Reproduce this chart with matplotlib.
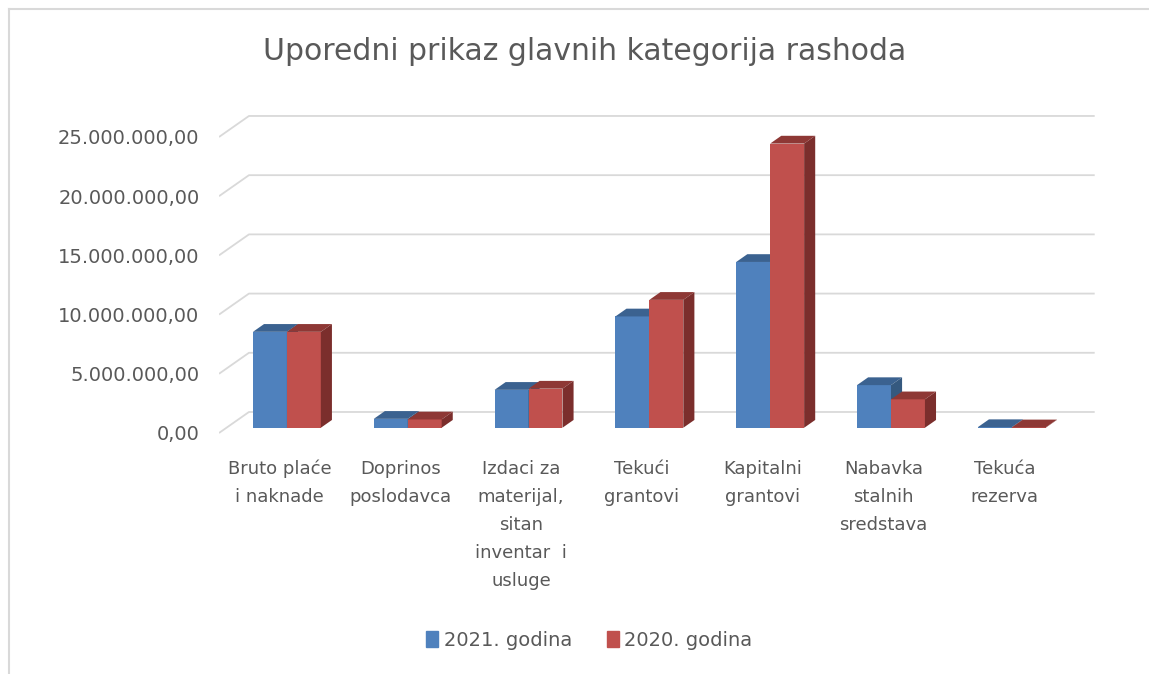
import matplotlib.pyplot as plt
from matplotlib.patches import Polygon, Patch
from matplotlib.lines import Line2D

categories = ["Bruto plaće\ni naknade", "Doprinos\nposlodavca",
              "Izdaci za\nmaterijal,\nsitan\ninventar  i\nusluge",
              "Tekući\ngrantovi", "Kapitalni\ngrantovi",
              "Nabavka\nstalnih\nsredstava", "Tekuća\nrezerva"]
god_2021 = [8.1e6, 0.75e6, 3.2e6, 9.4e6, 14.0e6, 3.6e6, 0.05e6]
god_2020 = [8.1e6, 0.7e6, 3.3e6, 10.8e6, 24.0e6, 2.4e6, 0.03e6]
series_names = ["2021. godina", "2020. godina"]
yticks = [0, 5e6, 10e6, 15e6, 20e6, 25e6]

plt.rcParams['font.family'] = ['DejaVu Sans']
txt_col = '#595959'
grid_col = '#d9d9d9'
front = ['#4f81bd', '#c0504d']
top = ['#3b6290', '#8e3835']
side = ['#35597f', '#7b2e2c']

fig = plt.figure(figsize=(11.49, 6.74), dpi=100)
ax = fig.add_axes([0.1906, 0.3488, 0.7676, 0.4831])
n = len(categories)
ax.set_xlim(-0.5, n - 0.5 + 0.3)
ax.set_ylim(-0.5e6, 27e6)

# depth of the fake 3d box, in data units
dx, dy = 0.248, 1.774e6
w = 0.281
f0, f1 = 0.25, 0.62  # bars sit between these depth fractions

# back wall gridlines
for v in yticks:
    ax.plot([-0.5, -0.5 + dx, n - 0.5 + dx], [v, v + dy, v + dy],
            color=grid_col, lw=1.3, zorder=1, solid_capstyle='butt')

base = f0 * dy
bdx, bdy = (f1 - f0) * dx, (f1 - f0) * dy
for s, vals in enumerate([god_2021, god_2020]):
    for i, v in enumerate(vals):
        x0 = i - w + f0 * dx + s * w
        x1 = x0 + w
        t = base + v
        ax.bar(x0, v, width=w, bottom=base, align='edge', color=front[s],
               zorder=3 + s)
        ax.add_patch(Polygon([(x0, t), (x1, t), (x1 + bdx, t + bdy), (x0 + bdx, t + bdy)],
                             closed=True, color=top[s], zorder=3 + s, lw=0))
        ax.add_patch(Polygon([(x1, base), (x1 + bdx, base + bdy), (x1 + bdx, t + bdy), (x1, t)],
                             closed=True, color=side[s], zorder=3 + s, lw=0))

for sp in ax.spines.values():
    sp.set_visible(False)

def fmt(v):
    s = f"{v:,.2f}"
    return s.replace(',', 'X').replace('.', ',').replace('X', '.')

ax.set_yticks(yticks)
ax.set_yticklabels([fmt(v) for v in yticks])
ax.set_xticks(range(n))
ax.set_xticklabels(categories)
ax.tick_params(axis='y', length=0, pad=14, labelsize=14, labelcolor=txt_col)
ax.tick_params(axis='x', length=0, pad=15, labelsize=13, labelcolor=txt_col)
for lbl in ax.get_xticklabels():
    lbl.set_linespacing(1.72)

fig.text(0.509, 0.923, "Uporedni prikaz glavnih kategorija rashoda",
         ha='center', va='center', fontsize=21.5, color=txt_col)

handles = [Patch(color=front[0], label=series_names[0]),
           Patch(color=front[1], label=series_names[1])]
leg = fig.legend(handles=handles, loc='center', bbox_to_anchor=(0.513, 0.05), ncol=2,
                 frameon=False, fontsize=14, handlelength=0.6, handleheight=0.9,
                 handletextpad=0.3, columnspacing=1.8)
for t in leg.get_texts():
    t.set_color(txt_col)

# chart frame (only left and top edges show)
bx, by = 8.5 / 1149, 1 - 8.5 / 674
fig.add_artist(Line2D([bx, bx], [-0.01, by], transform=fig.transFigure, color=grid_col, lw=1.5))
fig.add_artist(Line2D([bx, 1.01], [by, by], transform=fig.transFigure, color=grid_col, lw=1.5))

fig.savefig('out.png', dpi=100)
